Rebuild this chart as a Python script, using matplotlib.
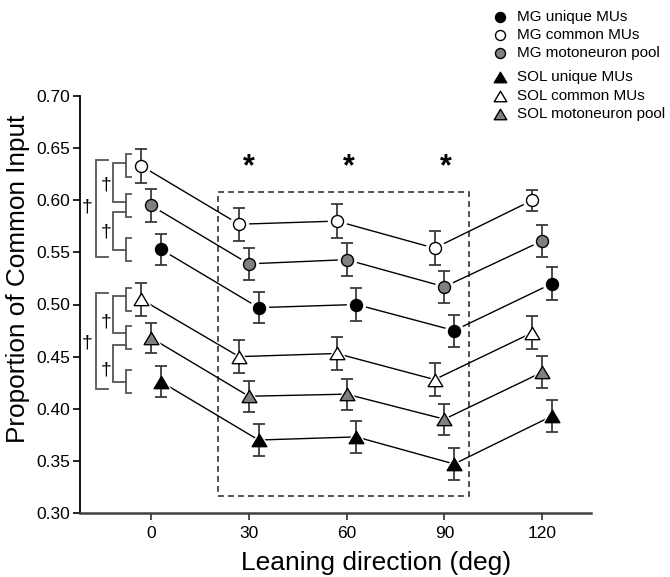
import matplotlib
matplotlib.use("Agg")
import matplotlib.pyplot as plt
from matplotlib.lines import Line2D
from matplotlib.patches import Rectangle
from matplotlib.path import Path
import numpy as np

plt.rcParams['font.family'] = ['Liberation Sans', 'DejaVu Sans']

# ---------------- data ----------------
directions = [0, 30, 60, 90, 120]
xticks = [0, 30, 60, 90, 120]
yticks = [0.30, 0.35, 0.40, 0.45, 0.50, 0.55, 0.60, 0.65, 0.70]

mg_unique = [0.553, 0.497, 0.500, 0.475, 0.520]
mg_unique_err = [0.0150, 0.0152, 0.0155, 0.0153, 0.0156]
mg_common = [0.633, 0.577, 0.580, 0.554, 0.600]
mg_common_err = [0.0163, 0.0160, 0.0165, 0.0161, 0.0100]
mg_pool = [0.595, 0.539, 0.543, 0.517, 0.561]
mg_pool_err = [0.0155, 0.0155, 0.0156, 0.0152, 0.0155]

sol_unique = [0.426, 0.370, 0.373, 0.347, 0.393]
sol_unique_err = [0.0147, 0.0153, 0.0155, 0.0152, 0.0156]
sol_common = [0.505, 0.450, 0.453, 0.428, 0.473]
sol_common_err = [0.0156, 0.0160, 0.0160, 0.0155, 0.0160]
sol_pool = [0.468, 0.412, 0.414, 0.390, 0.435]
sol_pool_err = [0.0144, 0.0150, 0.0150, 0.0149, 0.0152]

labels = ["MG unique MUs", "MG common MUs", "MG motoneuron pool",
          "SOL unique MUs", "SOL common MUs", "SOL motoneuron pool"]

# ---------------- figure ----------------
W, H = 670, 577
fig = plt.figure(figsize=(W / 100, H / 100), dpi=100)
ax = fig.add_axes([80 / W, 64 / H, 510.7 / W, 417 / H])
ax.set_xlim(-21.8, 134.9)
ax.set_ylim(0.30, 0.70)

GRAY = '#808080'
EC = '#3a3a3a'
tri = Path([(-1, -0.84), (1, -0.84), (0, 0.84), (-1, -0.84)], closed=True)

series = [
    (mg_common, mg_common_err, -3, 'o', 'white'),
    (mg_pool, mg_pool_err, 0, 'o', GRAY),
    (mg_unique, mg_unique_err, 3, 'o', 'black'),
    (sol_common, sol_common_err, -3, tri, 'white'),
    (sol_pool, sol_pool_err, 0, tri, GRAY),
    (sol_unique, sol_unique_err, 3, tri, 'black'),
]

px = 72 / 100  # points per pixel
for vals, errs, off, mk, fc in series:
    x = np.array(directions, dtype=float) + off
    ms = 12 * px if mk == 'o' else 14.7 * px
    halo = ms + 6 * px
    ax.plot(x, vals, '-', color='black', lw=1.0, zorder=1)
    ax.plot(x, vals, linestyle='none', marker=mk, ms=halo, mfc='white',
            mec='white', zorder=2)
    ax.errorbar(x, vals, yerr=errs, fmt='none', ecolor=EC, elinewidth=1.3,
                capsize=5.6 * px, capthick=1.3, zorder=3)
    ax.plot(x, vals, linestyle='none', marker=mk, ms=ms, mfc=fc,
            mec='black', mew=1.0, zorder=4)

# dashed box
ax.add_patch(Rectangle((20.6, 0.3163), 97.6 - 20.6, 0.6076 - 0.3163,
                       fill=False, ls=(0, (3.5, 2.5)), lw=1.2,
                       edgecolor='#333333', zorder=0))

# asterisks
for xa in [30.06, 60.7, 90.4]:
    ax.text(xa, 0.632, '*', ha='center', va='center', fontsize=22,
            fontweight='bold', color='black')

# brackets
BC = '#555555'
x_small, x_small_end = -7.67, -6.1
x_pair, x_outer, x_outer_end = -11.6, -16.9, -13.1


def bracket(xv, xend, y1, y2):
    ax.plot([xend, xv, xv, xend], [y1, y1, y2, y2], color=BC, lw=1.3,
            clip_on=False, solid_joinstyle='miter', zorder=5)


for v in [mg_common[0], mg_pool[0], mg_unique[0],
          sol_common[0], sol_pool[0], sol_unique[0]]:
    bracket(x_small, x_small_end, v + 0.011, v - 0.011)

pairs = [(0.6354, 0.5986), (0.5890, 0.5523), (0.5082, 0.4724), (0.4612, 0.4260)]
for y1, y2 in pairs:
    bracket(x_pair, x_small, y1, y2)
outers = [(0.6386, 0.5453), (0.5113, 0.4187)]
for y1, y2 in outers:
    bracket(x_outer, x_outer_end, y1, y2)

for yd in [0.6146, 0.5698, 0.4835, 0.4372]:
    ax.text(-13.9, yd, '†', ha='center', va='center', fontsize=14,
            color='black', clip_on=False)
for yd in [0.5938, 0.4628]:
    ax.text(-19.7, yd, '†', ha='center', va='center', fontsize=14,
            color='black', clip_on=False)

# axes styling
for s in ['top', 'right']:
    ax.spines[s].set_visible(False)
ax.spines['left'].set_linewidth(1.3)
ax.spines['left'].set_color('black')
ax.spines['bottom'].set_linewidth(1.8)
ax.spines['bottom'].set_color('#404040')
ax.set_xticks(xticks)
ax.set_xticklabels([str(t) for t in xticks])
ax.set_yticks(yticks)
ax.set_yticklabels([f"{t:.2f}" for t in yticks])
ax.tick_params(axis='y', direction='out', length=5, width=1.2, pad=2,
               labelsize=12.5, color='black')
ax.tick_params(axis='x', direction='out', length=5, width=1.3, pad=4,
               labelsize=12.5, color='#404040')

fig.text(376.5 / W, 1 - 563 / H, 'Leaning direction (deg)', ha='center',
         va='center', fontsize=19)
fig.text(18.3 / W, 1 - 278.4 / H, 'Proportion of Common Input', ha='center',
         va='center', rotation=90, fontsize=18.8)

# legend (manual)
leg_rows = [16.7, 35, 53.3, 77.3, 96, 114]
leg_mk = ['o', 'o', 'o', tri, tri, tri]
leg_fc = ['black', 'white', GRAY, 'black', 'white', GRAY]
for yy, lab, mk, fc in zip(leg_rows, labels, leg_mk, leg_fc):
    ms = 10 * px if mk == 'o' else 12.5 * px
    fig.add_artist(Line2D([499.5 / W], [1 - yy / H], transform=fig.transFigure,
                          marker=mk, ms=ms, mfc=fc, mec='black', mew=1.0,
                          linestyle='none'))
    fig.text(516.7 / W, 1 - yy / H, lab, ha='left', va='center', fontsize=11)

fig.savefig('out.png', dpi=100)
